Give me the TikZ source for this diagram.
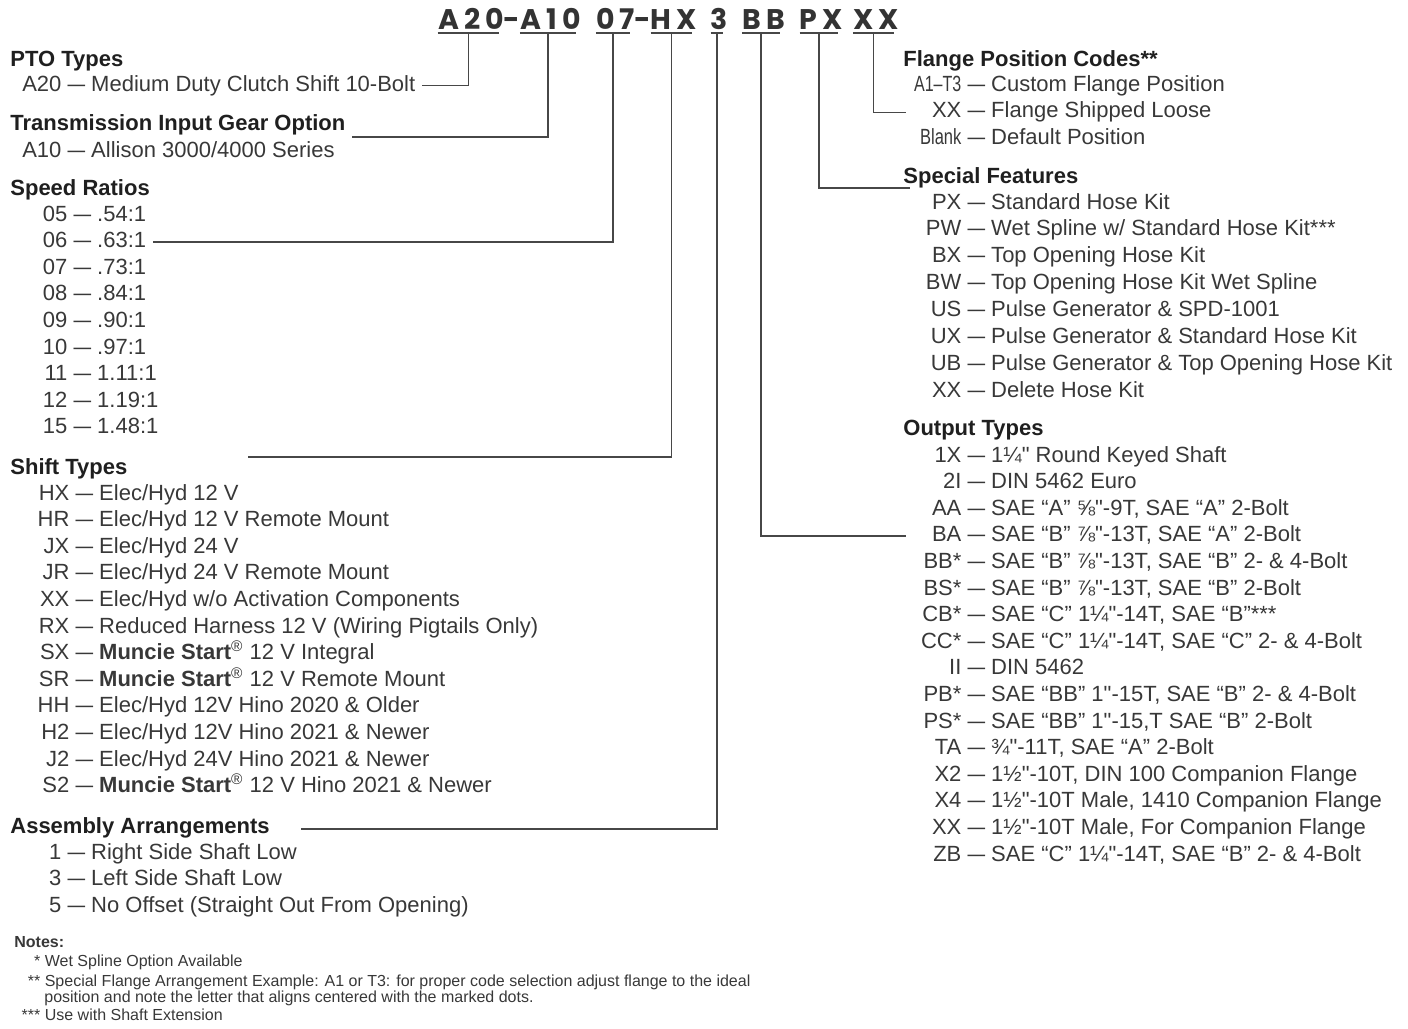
\documentclass[tikz,border=0pt]{standalone}
\usepackage{fontspec}
\usepackage{graphicx}
\setmainfont{Liberation Sans}[Ligatures=TeXOff]
\newfontfamily\codefont[LetterSpace=18]{Poppins}
\newcommand{\opt}[3]{\makebox[#1][r]{#2} \scalebox{0.8}[1]{—} #3}
\newcommand{\muncie}{\textbf{Muncie Start}\textsuperscript{®}}
\newcommand{\spc}[1]{#1\kern-0.18em}

\begin{document}
\begin{tikzpicture}[x=0.5pt, y=-0.5pt, every node/.style={font=\fontsize{11}{13}\selectfont}]
  \tikzset{
    heading/.style={anchor=base west, inner sep=0pt, font=\fontsize{11}{13}\selectfont\bfseries, text=black!88},
    choice/.style={anchor=base west, inner xsep=3pt, inner ysep=0pt, text height=7.9pt, text depth=2.2pt, text=black!78},
    codebox/.style={anchor=base, inner xsep=0pt, inner ysep=1.6pt, text depth=0pt, font=\codefont\bfseries\fontsize{14.2}{16}\selectfont, text=black!80},
    notetext/.style={anchor=base west, inner sep=0pt, font=\fontsize{8}{9.6}\selectfont, text=black!78},
    leader/.style={draw=black!72, line width=0.7pt}
  }
  \useasboundingbox (0,0) rectangle (1408,1028);

  \node[codebox] (c-A20)   at (468.5,29) {\spc{A20}};
  \node[codebox] (c-dash1) at (509.5,29) {\spc{-}};
  \node[codebox] (c-A10)   at (548,29)   {\spc{A10}};
  \node[codebox] (c-07)    at (613,29)   {\spc{07}};
  \node[codebox] (c-dash2) at (640.5,29) {\spc{-}};
  \node[codebox] (c-HX)    at (671.5,29) {\spc{HX}};
  \node[codebox] (c-3)     at (717,29)   {\spc{3}};
  \node[codebox] (c-BB)    at (761,29)   {\spc{BB}};
  \node[codebox] (c-PX)    at (819,29)   {\spc{PX}};
  \node[codebox] (c-XX)    at (873.5,29) {\spc{XX}};
  \foreach \n in {A20,A10,07,HX,3,BB,PX,XX}
    \draw[leader, line width=0.9pt] (c-\n.south west) -- (c-\n.south east);

  \node[heading] (pto) at (10,66) {PTO Types};
  \node[choice] (pto-1) at (15,91) {\opt{20pt}{A20}{Medium Duty Clutch Shift 10-Bolt}};
  \node[heading] (tig) at (10,130) {Transmission Input Gear Option};
  \node[choice] (tig-1) at (15,157) {\opt{20pt}{A10}{Allison 3000/4000 Series}};

  \node[heading] (sr) at (10,195) {Speed Ratios};
  \foreach \c/\d [count=\i] in {05/.54:1, 06/.63:1, 07/.73:1, 08/.84:1, 09/.90:1,
      10/.97:1, 11/1.11:1, 12/1.19:1, 15/1.48:1}
    \node[choice] (sr-\i) at (36, 194.4+26.6*\i) {\opt{12.5pt}{\c}{\d}};

  \node[heading] (st) at (10,474) {Shift Types};
  \foreach \c/\d [count=\i] in {HX/{Elec/Hyd 12 V}, HR/{Elec/Hyd 12 V Remote Mount},
      JX/{Elec/Hyd 24 V}, JR/{Elec/Hyd 24 V Remote Mount},
      XX/{Elec/Hyd w/o Activation Components},
      RX/{Reduced Harness 12 V (Wiring Pigtails Only)},
      SX/{\muncie{} 12 V Integral}, SR/{\muncie{} 12 V Remote Mount},
      HH/{Elec/Hyd 12V Hino 2020 \& Older}, H2/{Elec/Hyd 12V Hino 2021 \& Newer},
      J2/{Elec/Hyd 24V Hino 2021 \& Newer}, S2/{\muncie{} 12 V Hino 2021 \& Newer}}
    \node[choice] (st-\i) at (30, 473.4+26.6*\i) {\opt{16.5pt}{\c}{\d}};

  \node[heading] (aa) at (10,833) {Assembly Arrangements};
  \foreach \c/\d [count=\i] in {1/Right Side Shaft Low, 3/Left Side Shaft Low,
      5/{No Offset (Straight Out From Opening)}}
    \node[choice] (aa-\i) at (40, 832.5+26.5*\i) {\opt{7.5pt}{\c}{\d}};

  \node[notetext, font=\fontsize{8}{9.6}\selectfont\bfseries] (notes) at (14,947) {Notes:};
  \node[notetext] (note-1) at (20,966.5) {\makebox[10pt][r]{*} Wet Spline Option Available};
  \node[notetext] (note-2) at (20,986.5) {\makebox[10pt][r]{**} Special Flange Arrangement Example: A1 or T3: for proper code selection adjust flange to the ideal};
  \node[notetext] (note-2b) at (44,1002.5) {position and note the letter that aligns centered with the marked dots.};
  \node[notetext] (note-3) at (20,1020.5) {\makebox[10pt][r]{***} Use with Shaft Extension};

  \node[heading] (fp) at (903,66) {Flange Position Codes**};
  \foreach \c/\d [count=\i] in {{\scalebox{0.73}[1]{A1–T3}}/Custom Flange Position,
      XX/Flange Shipped Loose, {\scalebox{0.75}[1]{Blank}}/Default Position}
    \node[choice] (fp-\i) at (906, 64.1+26.9*\i) {\opt{24.5pt}{\c}{\d}};

  \node[heading] (sf) at (903,183) {Special Features};
  \foreach \c/\d [count=\i] in {PX/Standard Hose Kit, PW/{Wet Spline w/ Standard Hose Kit***},
      BX/Top Opening Hose Kit, BW/Top Opening Hose Kit Wet Spline,
      US/{Pulse Generator \& SPD-1001}, UX/{Pulse Generator \& Standard Hose Kit},
      UB/{Pulse Generator \& Top Opening Hose Kit}, XX/Delete Hose Kit}
    \node[choice] (sf-\i) at (906, 182.1+26.9*\i) {\opt{24.5pt}{\c}{\d}};

  \node[heading] (ot) at (903,435) {Output Types};
  \foreach \c/\d [count=\i] in {1X/{1¼" Round Keyed Shaft}, 2I/DIN 5462 Euro,
      AA/{SAE “A” ⅝"-9T, SAE “A” 2-Bolt}, BA/{SAE “B” ⅞"-13T, SAE “A” 2-Bolt},
      BB*/{SAE “B” ⅞"-13T, SAE “B” 2- \& 4-Bolt}, BS*/{SAE “B” ⅞"-13T, SAE “B” 2-Bolt},
      CB*/{SAE “C” 1¼"-14T, SAE “B”***}, CC*/{SAE “C” 1¼"-14T, SAE “C” 2- \& 4-Bolt},
      II/DIN 5462, PB*/{SAE “BB” 1"-15T, SAE “B” 2- \& 4-Bolt},
      PS*/{SAE “BB” 1"-15,T SAE “B” 2-Bolt}, TA/{¾"-11T, SAE “A” 2-Bolt},
      X2/{1½"-10T, DIN 100 Companion Flange}, X4/{1½"-10T Male, 1410 Companion Flange},
      XX/{1½"-10T Male, For Companion Flange}, ZB/{SAE “C” 1¼"-14T, SAE “B” 2- \& 4-Bolt}}
    \node[choice] (ot-\i) at (906, 435.4+26.6*\i) {\opt{24.5pt}{\c}{\d}};

  \coordinate (tig-end) at (352,137);
  \coordinate (st-end) at (248,457);
  \coordinate (aa-end) at (301,829);
  \coordinate (sf-end) at (910,188);
  \draw[leader] (c-A20.south) |- (pto-1.east);
  \draw[leader] (c-A10.south) |- (tig-end);
  \draw[leader] (c-07.south) |- (sr-2.east);
  \draw[leader] (c-HX.south) |- (st-end);
  \draw[leader] (c-3.south) |- (aa-end);
  \draw[leader] (c-BB.south) |- (ot-4.west);
  \draw[leader] (c-PX.south) |- (sf-end);
  \draw[leader] (c-XX.south) |- (fp-2.west);
\end{tikzpicture}
\end{document}
